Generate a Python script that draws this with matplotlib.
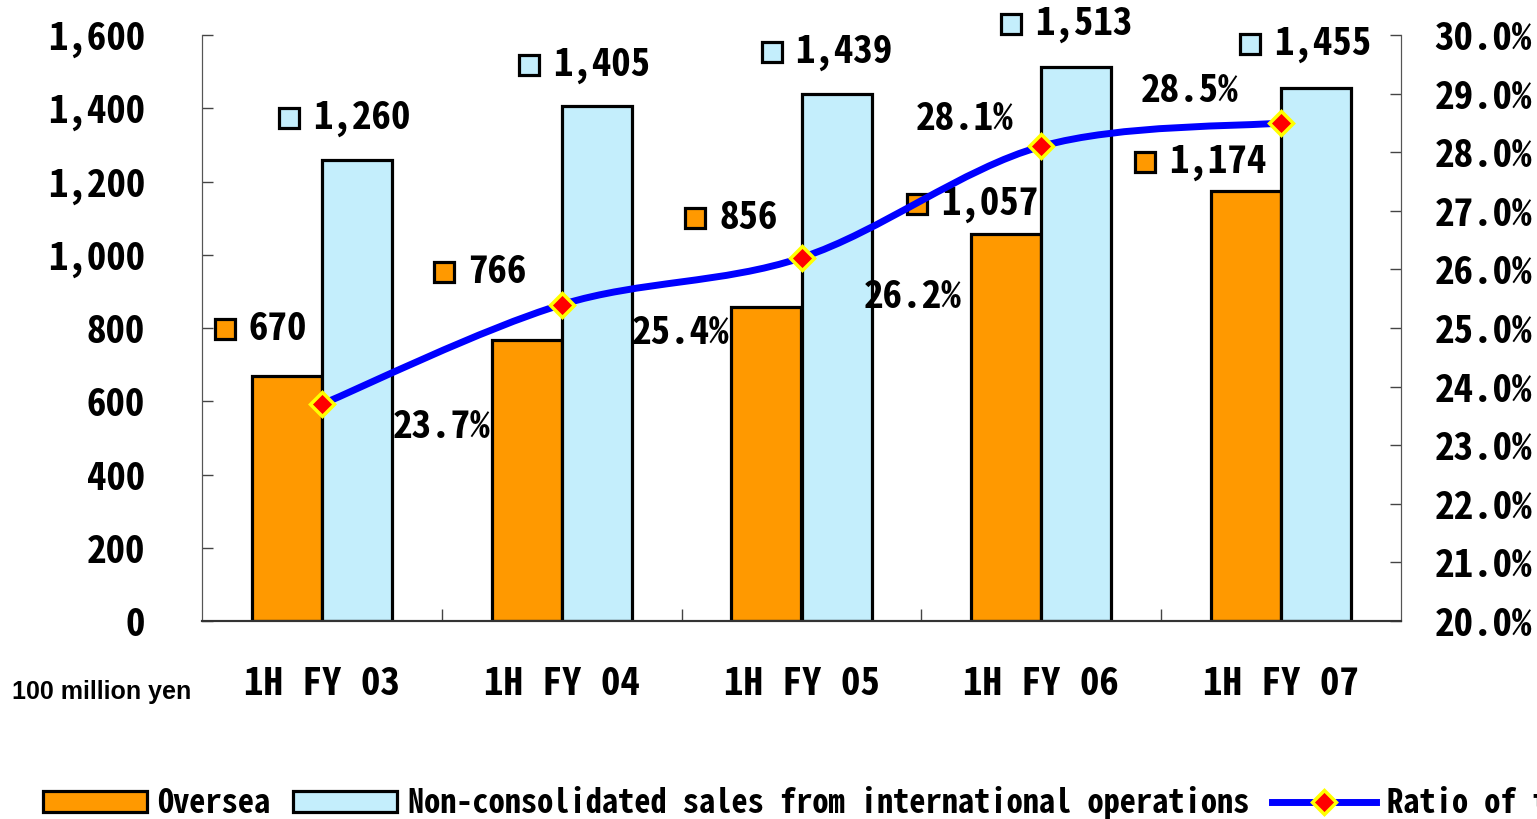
import matplotlib
matplotlib.use('Agg')
import matplotlib.pyplot as plt
import matplotlib.transforms as mtransforms
from matplotlib.path import Path
from matplotlib.patches import PathPatch, Patch
from matplotlib.lines import Line2D
import numpy as np

# data
periods = ['1H FY 03', '1H FY 04', '1H FY 05', '1H FY 06', '1H FY 07']
oversea = [670, 766, 856, 1057, 1174]
nonconsol = [1260, 1405, 1439, 1513, 1455]
ratio = [23.7, 25.4, 26.2, 28.1, 28.5]
left_ticks = [0, 200, 400, 600, 800, 1000, 1200, 1400, 1600]
right_ticks = [20, 21, 22, 23, 24, 25, 26, 27, 28, 29, 30]

# label offsets in pixels (square centre relative to bar top), pct label offsets relative to marker
ov_off = [(-62, 47), (-83, 68), (-71, 89), (-89, 30), (-101, 29)]
nc_off = [(-68, 42), (-68, 41), (-65, 42), (-65, 43), (-66, 44)]
pct_off = [(71, -23), (70, -28), (62, -39), (-125, 27), (-140, 32)]

mono = ['Noto Sans Mono CJK JP', 'DejaVu Sans Mono']
plt.rcParams['font.family'] = mono
plt.rcParams['font.weight'] = 'bold'

W, H = 1537, 819
fig = plt.figure(figsize=(W / 100, H / 100), dpi=100)
ax = fig.add_axes([202 / W, (H - 621) / H, (1401 - 202) / W, (621 - 35) / H])
ax2 = ax.twinx()

orange = '#FF9900'
lblue = '#C4EEFC'
bw = 0.292
x = np.arange(len(periods))

ax.bar(x - bw / 2, oversea, bw, color=orange, edgecolor='black', linewidth=2.3, zorder=2)
ax.bar(x + bw / 2, nonconsol, bw, color=lblue, edgecolor='black', linewidth=2.3, zorder=2)

ax.set_xlim(-0.5, len(periods) - 0.5)
ax.set_ylim(0, 1600)
ax.set_yticks(left_ticks)
ax.set_yticklabels(['{:,}'.format(v) for v in left_ticks], fontsize=28)
ax.set_xticks(x)
ax.set_xticklabels(periods, fontsize=28)
ax.set_xticks(x[:-1] + 0.5, minor=True)
ax.tick_params(axis='x', which='major', length=0, pad=32)
ax.tick_params(axis='x', which='minor', direction='in', length=9, width=1, color='#444444')
ax.tick_params(axis='y', direction='in', length=8, width=1, color='#444444', pad=41)

ax2.set_ylim(20, 30)
ax2.set_yticks(right_ticks)
ax2.set_yticklabels(['{:.1f}%'.format(v) for v in right_ticks], fontsize=28)
ax2.tick_params(axis='y', direction='in', length=8, width=1, color='#444444', pad=24)

for a in (ax, ax2):
    a.spines['top'].set_visible(False)
    a.spines['left'].set_color('#555555')
    a.spines['right'].set_color('#555555')
    a.spines['bottom'].set_color('#333333')
    a.spines['bottom'].set_linewidth(1.5)

# smoothed ratio line (Bezier through the points)
pts = np.column_stack([x, ratio]).astype(float)
verts = [pts[0]]
codes = [Path.MOVETO]
n = len(pts)
for i in range(n - 1):
    p_prev = pts[max(i - 1, 0)]
    p_next2 = pts[min(i + 2, n - 1)]
    c1 = pts[i] + (pts[i + 1] - p_prev) / 6
    c2 = pts[i + 1] - (p_next2 - pts[i]) / 6
    verts += [c1, c2, pts[i + 1]]
    codes += [Path.CURVE4] * 3
ax2.add_patch(PathPatch(Path(verts, codes), fill=False, edgecolor='#0000FF', linewidth=5, zorder=3,
                        capstyle='round'))
ax2.plot(x, ratio, linestyle='none', marker='D', markersize=12, markerfacecolor='#FF0000',
         markeredgecolor='#FFFF00', markeredgewidth=2.5, zorder=4)

# data labels
def value_label(xc, v, off, color):
    t_sq = mtransforms.offset_copy(ax.transData, fig=fig, x=off[0], y=off[1], units='dots')
    ax.plot([xc], [v], marker='s', markersize=15, markerfacecolor=color, markeredgecolor='black',
            markeredgewidth=2.3, transform=t_sq, clip_on=False, zorder=5)
    t_tx = mtransforms.offset_copy(ax.transData, fig=fig, x=off[0] + 24, y=off[1], units='dots')
    ax.text(xc, v, '{:,}'.format(v), transform=t_tx, ha='left', va='center', fontsize=28, zorder=5)

for i in range(len(periods)):
    value_label(x[i] - bw / 2, oversea[i], ov_off[i], orange)
    value_label(x[i] + bw / 2, nonconsol[i], nc_off[i], lblue)
    t_p = mtransforms.offset_copy(ax2.transData, fig=fig, x=pct_off[i][0], y=pct_off[i][1], units='dots')
    ax2.text(x[i], ratio[i], '{:.1f}%'.format(ratio[i]), transform=t_p, ha='left', va='center',
             fontsize=28, zorder=5)

fig.text(12 / W, 1 - 692 / H, '100 million yen', family='Liberation Sans',
         fontweight='bold', fontsize=18, ha='left', va='center')

handles = [
    Patch(facecolor=orange, edgecolor='black', linewidth=2.3),
    Patch(facecolor=lblue, edgecolor='black', linewidth=2.3),
    Line2D([], [], color='#0000FF', linewidth=5, marker='D', markersize=12,
           markerfacecolor='#FF0000', markeredgecolor='#FFFF00', markeredgewidth=2.5),
]
labels = ['Oversea', 'Non-consolidated sales from international operations', 'Ratio of total sales']
fig.legend(handles, labels, loc='center left', bbox_to_anchor=(43 / W, 1 - 803 / H), ncol=3,
           frameon=False, fontsize=23.3, handlelength=3.2, handleheight=0.62, handletextpad=0.34,
           columnspacing=0.7, borderpad=0, borderaxespad=0)

fig.savefig('out.png', dpi=100)
